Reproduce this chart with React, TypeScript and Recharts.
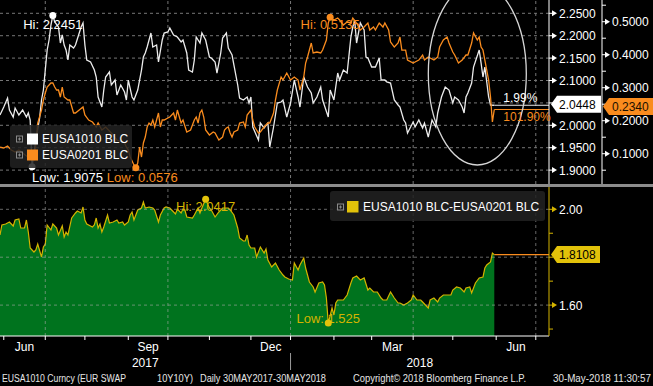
import React from "react";
import { LineChart, Line, AreaChart, Area, XAxis, YAxis, ReferenceLine, ReferenceDot } from "recharts";

const FONT = "'Liberation Sans', Arial, Helvetica, sans-serif";
const ORANGE = "#fa8c1e";
const WHITE = "#ececec";
const YELLOW = "#d4b400";
const YELLOW_BOX = "#e2c20a";
const GREEN = "#00731e";
const GRID = "#777777";

// x = trading-day index (0 = 30 May 2017, 262 = 30 May 2018)
const X_DOMAIN: [number, number] = [0, 291];
const monthStartDays = [2, 24, 45, 68, 89, 111, 133, 154, 177, 197, 219, 240, 263, 284];
const quarterDays = [24, 89, 154, 219, 284];
const monthLabelDays = [13, 78.5, 143.5, 208, 273.5];
const monthLabels = ["Jun", "Sep", "Dec", "Mar", "Jun"];
const yearLabelDays = [77, 222.5];
const yearLabels = ["2017", "2018"];
const yearBreakDays = [154];

const whiteDays = [
  0, 2, 4, 5, 7, 8, 10, 12, 14, 15,
  16, 17, 19, 21, 22, 23, 24, 25, 26, 27,
  28, 29, 31, 32, 33, 34, 35, 36, 37, 39,
  40, 42, 43, 44, 45, 46, 48, 50, 51, 52,
  54, 55, 56, 58, 59, 61, 62, 64, 66, 67,
  68, 70, 71, 73, 75, 76, 77, 78, 80, 81,
  83, 84, 86, 87, 89, 90, 92, 94, 96, 97,
  99, 100, 102, 103, 104, 106, 107, 109, 111, 112,
  114, 115, 117, 118, 120, 121, 123, 124, 126, 127,
  129, 131, 132, 133, 134, 137, 138, 140, 142, 143,
  145, 147, 149, 150, 152, 154, 156, 158, 159, 161,
  163, 165, 166, 168, 170, 171, 174, 175, 177, 179,
  180, 182, 184, 186, 187, 188, 189, 191, 193, 194,
  195, 197, 199, 201, 202, 204, 205, 207, 209, 211,
  212, 214, 215, 216, 219, 220, 222, 224, 225, 227,
  229, 231, 232, 234, 236, 238, 240, 241, 243, 245,
  246, 247, 248, 250, 251, 254, 255, 256, 257, 259,
  260, 262,
];
const whiteVals = [
  2.0230, 2.0408, 2.0609, 2.0342, 2.0185, 2.0386, 2.0230, 2.0342, 2.0185, 2.0275,
  2.0118, 1.9075, 1.9672, 2.0163, 2.0565, 2.0788, 2.1234, 2.1681, 2.1904, 2.2239,
  2.2451, 2.2306, 2.2194, 2.1837, 2.2016, 2.1792, 2.1681, 2.1458, 2.1792, 2.1725,
  2.1792, 2.2060, 2.2194, 2.2283, 2.1792, 2.1458, 2.1413, 2.1234, 2.1078, 2.0632,
  2.0408, 2.0788, 2.1078, 2.1190, 2.0900, 2.1011, 2.0676, 2.0900, 2.0743, 2.0565,
  2.1011, 2.0632, 2.0565, 2.0788, 2.1234, 2.1525, 2.1614, 2.1748, 2.2060, 2.1748,
  2.1792, 2.1413, 2.1904, 2.2060, 2.2083, 2.2172, 2.2016, 2.1971, 2.1860, 2.1904,
  2.1614, 2.1234, 2.1190, 2.1458, 2.1971, 2.1837, 2.2060, 2.1904, 2.1525, 2.1502,
  2.1413, 2.1167, 2.1614, 2.1949, 2.2060, 2.1725, 2.1569, 2.1346, 2.0900, 2.0609,
  2.0565, 2.0632, 2.0498, 2.0632, 1.9962, 1.9672, 2.0051, 1.9940, 2.0051, 1.9516,
  1.9962, 2.0498, 2.0520, 2.0565, 2.0185, 2.0498, 2.1011, 2.0632, 2.0408, 2.1078,
  2.0855, 2.0721, 2.0498, 2.0632, 2.0855, 2.0565, 2.0185, 2.0788, 2.0565, 2.1167,
  2.1011, 2.1234, 2.1167, 2.1971, 2.2194, 2.2350, 2.1837, 2.2283, 2.2127, 2.1525,
  2.1502, 2.1301, 2.1301, 2.1502, 2.1011, 2.1011, 2.0967, 2.0944, 2.0565, 2.0453,
  2.0408, 2.0118, 2.0051, 1.9828, 2.0074, 1.9962, 2.0118, 1.9940, 2.0051, 1.9739,
  2.0118, 1.9962, 2.0275, 2.0632, 2.0855, 2.0788, 2.0498, 2.0632, 2.0565, 2.0408,
  2.0275, 2.0632, 2.0721, 2.0944, 2.1301, 2.1681, 2.1391, 2.1078, 2.1301, 2.0632,
  2.0453, 2.0448,
];

const orangeDays = [
  0, 2, 4, 6, 8, 10, 12, 14, 16, 18,
  19, 20, 22, 23, 24, 25, 27, 28, 29, 30,
  31, 32, 33, 34, 36, 37, 39, 40, 42, 44,
  45, 47, 49, 51, 52, 54, 56, 59, 62, 66,
  67, 68, 69, 71, 72, 73, 74, 75, 76, 77,
  78, 79, 80, 81, 82, 84, 85, 86, 87, 89,
  90, 92, 93, 94, 96, 97, 99, 101, 103, 104,
  105, 106, 107, 108, 109, 111, 113, 114, 116, 118,
  119, 120, 121, 122, 123, 124, 126, 127, 129, 130,
  131, 133, 134, 135, 137, 138, 140, 142, 143, 145,
  146, 147, 149, 150, 152, 154, 156, 158, 159, 161,
  162, 163, 165, 166, 168, 170, 171, 173, 174, 175,
  177, 179, 180, 182, 184, 186, 187, 189, 191, 193,
  195, 196, 198, 199, 201, 203, 204, 206, 207, 209,
  211, 212, 213, 215, 216, 219, 220, 222, 224, 225,
  227, 228, 230, 232, 233, 235, 237, 238, 240, 241,
  243, 245, 247, 248, 250, 251, 253, 254, 255, 256,
  257, 259, 260, 261, 262,
];
const orangeVals = [
  0.1203, 0.1173, 0.1233, 0.1112, 0.1052, 0.1112, 0.1021, 0.0930, 0.0870, 0.0809,
  0.1264, 0.1930, 0.2324, 0.2627, 0.2839, 0.3021, 0.3142, 0.3142, 0.3021, 0.2930,
  0.2930, 0.2718, 0.3021, 0.2718, 0.2627, 0.2627, 0.2233, 0.2233, 0.2324, 0.2415,
  0.2173, 0.2021, 0.1961, 0.1809, 0.1930, 0.1718, 0.1809, 0.1627, 0.1415, 0.1324,
  0.1203, 0.1112, 0.0900, 0.0658, 0.0576, 0.0718, 0.1203, 0.0900, 0.1324, 0.1506,
  0.1809, 0.1930, 0.1870, 0.2021, 0.1809, 0.2233, 0.1809, 0.2021, 0.2021, 0.2082,
  0.2112, 0.2233, 0.2021, 0.2324, 0.1930, 0.2021, 0.1658, 0.1718, 0.2021, 0.2112,
  0.1930, 0.2233, 0.2324, 0.2112, 0.1718, 0.1567, 0.1658, 0.1627, 0.1415, 0.1506,
  0.1718, 0.1779, 0.1809, 0.1627, 0.1506, 0.1658, 0.1718, 0.1930, 0.1961, 0.1809,
  0.2173, 0.2324, 0.2021, 0.1809, 0.1627, 0.1658, 0.1809, 0.1930, 0.1930, 0.2233,
  0.2627, 0.2930, 0.3324, 0.3233, 0.3445, 0.3233, 0.3324, 0.3233, 0.2930, 0.3324,
  0.3748, 0.3930, 0.4355, 0.4052, 0.4082, 0.4052, 0.4142, 0.4445, 0.4961, 0.5135,
  0.5052, 0.5112, 0.5052, 0.4900, 0.4990, 0.4961, 0.5112, 0.4961, 0.4748, 0.4839,
  0.4961, 0.4748, 0.4839, 0.4748, 0.4961, 0.4839, 0.4961, 0.4748, 0.4385, 0.4233,
  0.4355, 0.4536, 0.4142, 0.4142, 0.3839, 0.3748, 0.3779, 0.3839, 0.3991, 0.3839,
  0.3930, 0.3900, 0.3839, 0.3930, 0.4233, 0.4445, 0.4536, 0.4355, 0.4082, 0.3991,
  0.3748, 0.3839, 0.3991, 0.3991, 0.4355, 0.4658, 0.4445, 0.4536, 0.4233, 0.4142,
  0.3839, 0.3233, 0.2718, 0.1961, 0.2340,
];

const spreadDays = [
  0, 1, 3, 5, 7, 8, 10, 11, 13, 14,
  15, 16, 18, 19, 20, 22, 23, 24, 25, 27,
  28, 30, 31, 33, 34, 35, 36, 38, 40, 41,
  43, 44, 45, 46, 49, 50, 51, 52, 53, 54,
  55, 57, 58, 60, 62, 63, 65, 66, 68, 69,
  70, 71, 73, 75, 76, 77, 79, 81, 82, 84,
  85, 87, 88, 90, 91, 93, 94, 96, 97, 98,
  99, 102, 103, 105, 106, 107, 109, 111, 112, 114,
  116, 118, 121, 122, 124, 126, 127, 129, 130, 131,
  132, 133, 135, 136, 138, 140, 141, 142, 144, 146,
  148, 150, 151, 153, 155, 156, 158, 159, 161, 162,
  164, 166, 167, 169, 171, 172, 173, 174, 176, 177,
  178, 179, 182, 184, 186, 187, 189, 191, 193, 195,
  196, 198, 200, 202, 203, 205, 207, 209, 211, 212,
  214, 216, 218, 219, 221, 223, 224, 227, 228, 230,
  232, 233, 235, 237, 239, 240, 242, 244, 246, 247,
  249, 250, 252, 254, 256, 257, 258, 260, 261, 262,
];
const spreadVals = [
  1.8927, 1.9344, 1.9386, 1.9470, 1.9303, 1.9553, 1.9595, 1.9219, 1.9219, 1.9553,
  1.9052, 1.8384, 1.8217, 1.8300, 1.8551, 1.8008, 1.8426, 1.8551, 1.9344, 1.9136,
  1.9386, 1.9219, 1.8927, 1.9303, 1.8843, 1.9052, 1.8927, 1.9637, 1.9846, 1.9929,
  1.9846, 2.0096, 1.9553, 1.9386, 1.9261, 1.9344, 1.9637, 1.9219, 1.9386, 1.9052,
  1.9261, 1.9762, 1.9428, 1.9470, 1.9553, 1.9428, 1.9470, 1.9344, 1.9470, 1.9762,
  1.9887, 1.9553, 1.9971, 2.0054, 2.0305, 2.0054, 2.0096, 2.0054, 1.9971, 1.9470,
  1.9762, 2.0054, 2.0096, 2.0054, 1.9971, 1.9804, 2.0013, 1.9846, 2.0013, 1.9971,
  1.9678, 1.9637, 1.9762, 2.0054, 1.9846, 2.0054, 2.0417, 2.0054, 1.9971, 1.9678,
  1.9887, 2.0054, 2.0054, 1.9971, 1.9762, 1.9219, 1.8802, 1.8676, 1.8676, 1.8927,
  1.8509, 1.8384, 1.8384, 1.8008, 1.8426, 1.8175, 1.8342, 1.7883, 1.7591, 1.7758,
  1.7466, 1.7257, 1.7173, 1.7090, 1.7048, 1.7758, 1.7466, 1.7674, 1.7967, 1.7549,
  1.6965, 1.6756, 1.6547, 1.6923, 1.6965, 1.6839, 1.6296, 1.5250, 1.5879, 1.5586,
  1.6087, 1.6213, 1.6213, 1.6422, 1.6923, 1.7132, 1.7215, 1.7048, 1.7132, 1.6630,
  1.6714, 1.6547, 1.6547, 1.6296, 1.6213, 1.6213, 1.6547, 1.6296, 1.6087, 1.6087,
  1.6004, 1.6087, 1.6213, 1.6422, 1.6213, 1.6213, 1.6129, 1.5879, 1.6213, 1.6296,
  1.6129, 1.6296, 1.6422, 1.6422, 1.6422, 1.6630, 1.6756, 1.6714, 1.6547, 1.6714,
  1.6756, 1.6505, 1.6923, 1.7132, 1.7173, 1.7549, 1.7674, 1.7800, 1.8175, 1.8108,
];

const whiteTicks = [1.9, 1.95, 2.0, 2.05, 2.1, 2.15, 2.2, 2.25];
const orangeTicks = [0.05, 0.1, 0.15, 0.2, 0.25, 0.3, 0.35, 0.4, 0.45, 0.5, 0.55];
const spreadTicks = [1.5, 1.6, 1.7, 1.8, 1.9, 2.0];

const W_DOMAIN: [number, number] = [1.869, 2.2797];
const O_DOMAIN: [number, number] = [0.0082, 0.5658];
const S_DOMAIN: [number, number] = [1.471, 2.0931];

const LAST_DAY = 262;
const whiteLast = 2.0448;
const orangeLast = 0.234;
const spreadLast = 1.8108;
const whiteHi = { d: 28, v: 2.2451 };
const whiteLo = { d: 17, v: 1.9075 };
const orangeHi = { d: 175, v: 0.5135 };
const orangeLo = { d: 72, v: 0.0576 };
const spreadHi = { d: 109, v: 2.0417 };
const spreadLo = { d: 174, v: 1.525 };
const circleCenter = { d: 253, v: 2.1145 };

// merge top series into one table
const topMap = new Map<number, any>();
whiteDays.forEach((d, i) => topMap.set(d, { ...(topMap.get(d) || { d }), w: whiteVals[i] }));
orangeDays.forEach((d, i) => topMap.set(d, { ...(topMap.get(d) || { d }), o: orangeVals[i] }));
const topData = Array.from(topMap.values()).sort((a, b) => a.d - b.d);
const spreadData = spreadDays.map((d, i) => ({ d, s: spreadVals[i] }));

const xTicks = Array.from(new Set([...monthStartDays, ...monthLabelDays, ...yearLabelDays, ...yearBreakDays])).sort((a, b) => a - b);

type BoxOpt = { value: number; fill: string; textColor: string; offset: number; dy: number; w: number; tx: number; text: string; hideNear: number };

function arrowTick(color: string, fmt: (v: number) => string, isMajor: (v: number) => boolean, box: BoxOpt) {
  return (props: any) => {
    const { x, y, payload } = props;
    const v = Number(payload.value);
    if (v === box.value) {
      const bx = x + box.offset;
      const cy = y + box.dy;
      const h = 8.5;
      return (
        <g>
          <path d={`M${bx},${cy}L${bx + 6},${cy - h}L${bx + box.w},${cy - h}L${bx + box.w},${cy + h}L${bx + 6},${cy + h}Z`} fill={box.fill} />
          <text x={bx + box.tx} y={cy + 4.5} fill={box.textColor} fontSize={12} fontFamily={FONT}>
            {box.text}
          </text>
        </g>
      );
    }
    if (!isMajor(v) || Math.abs(v - box.value) < box.hideNear) {
      return (
        <g>
          <line x1={x} y1={y} x2={x + 4} y2={y} stroke={color} strokeWidth={1} />
        </g>
      );
    }
    return (
      <g>
        <line x1={x} y1={y} x2={x + 4} y2={y} stroke={color} strokeWidth={1} />
        <path d={`M${x + 3},${y - 3}L${x + 8},${y}L${x + 3},${y + 3}Z`} fill={color} />
        <text x={x + 10} y={y + 4.5} fill="#ffffff" fontSize={12} fontFamily={FONT}>
          {fmt(v)}
        </text>
      </g>
    );
  };
}

function renderXTick(props: any) {
  const { x, y, payload } = props;
  const v = Number(payload.value);
  const parts: React.ReactNode[] = [];
  if (monthStartDays.includes(v)) parts.push(<line key="t" x1={x} x2={x} y1={y} y2={y + 4} stroke="#ffffff" />);
  const mi = monthLabelDays.indexOf(v);
  if (mi >= 0)
    parts.push(
      <text key="m" x={x} y={y + 15} textAnchor="middle" fill="#ffffff" fontSize={12} fontFamily={FONT}>
        {monthLabels[mi]}
      </text>
    );
  const yi = yearLabelDays.indexOf(v);
  if (yi >= 0)
    parts.push(
      <text key="y" x={x} y={y + 31} textAnchor="middle" fill="#ffffff" fontSize={12} fontFamily={FONT}>
        {yearLabels[yi]}
      </text>
    );
  if (yearBreakDays.includes(v)) parts.push(<line key="b" x1={x} x2={x} y1={y + 17} y2={y + 34} stroke="#9a9a9a" />);
  return <g>{parts}</g>;
}

function markerShape(o: { dot: string; text: string; color: string; dx: number; dy: number; anchor: "start" | "middle"; textFirst?: boolean }) {
  return (p: any) => {
    const dot = <circle cx={p.cx} cy={p.cy} r={3.5} fill={o.dot} />;
    const txt = (
      <text x={p.cx + o.dx} y={p.cy + o.dy} textAnchor={o.anchor} fill={o.color} fontSize={13} fontFamily={FONT}>
        {o.text}
      </text>
    );
    return o.textFirst ? (
      <g>
        {txt}
        {dot}
      </g>
    ) : (
      <g>
        {dot}
        {txt}
      </g>
    );
  };
}

function textShape(o: { text: string; color: string; dx: number; dy: number }) {
  return (p: any) => (
    <text x={p.cx + o.dx} y={p.cy + o.dy} fill={o.color} fontSize={12} fontFamily={FONT}>
      {o.text}
    </text>
  );
}

const LegendIcon = ({ x, y }: { x: number; y: number }) => (
  <g>
    <rect x={x + 0.5} y={y + 0.5} width={6} height={6} fill="none" stroke="#8a8a8a" strokeWidth={1} />
    <line x1={x + 2} y1={y + 3.5} x2={x + 5} y2={y + 3.5} stroke="#8a8a8a" />
    <line x1={x + 3.5} y1={y + 2} x2={x + 3.5} y2={y + 5} stroke="#8a8a8a" />
  </g>
);

export default function App() {
  const isMajorTenth = (v: number) => Math.abs(v * 10 - Math.round(v * 10)) < 1e-6;
  const isMajorFifth = (v: number) => Math.round(v * 10) % 2 === 0;
  return (
    <div style={{ position: "absolute", left: 0, top: 0, width: 653, height: 386, background: "#000", overflow: "hidden", fontFamily: FONT }}>
      <div style={{ position: "absolute", left: 0, top: 0 }}>
        <LineChart width={653} height={184} data={topData} margin={{ top: 0, right: 0, bottom: 0, left: 0 }}>
          <XAxis type="number" dataKey="d" domain={X_DOMAIN} allowDataOverflow hide />
          <YAxis
            yAxisId="b"
            orientation="right"
            type="number"
            width={51}
            domain={O_DOMAIN}
            allowDataOverflow
            ticks={[...orangeTicks, orangeLast]}
            interval={0}
            tickSize={0}
            tickMargin={0}
            tickLine={false}
            axisLine={{ stroke: "#ffffff" }}
            tick={arrowTick("#ffffff", (v) => v.toFixed(4), isMajorTenth, {
              value: orangeLast, fill: ORANGE, textColor: "#1a1000", offset: 1, dy: -3, w: 50, tx: 9, text: "0.2340", hideNear: 0.02,
            })}
          />
          <YAxis
            yAxisId="a"
            orientation="right"
            type="number"
            width={53}
            domain={W_DOMAIN}
            allowDataOverflow
            ticks={[...whiteTicks, whiteLast]}
            interval={0}
            tickSize={0}
            tickMargin={0}
            tickLine={false}
            axisLine={{ stroke: "#ffffff" }}
            tick={arrowTick("#ffffff", (v) => v.toFixed(4), () => true, {
              value: whiteLast, fill: "#ffffff", textColor: "#000000", offset: 2, dy: -1, w: 50, tx: 8, text: "2.0448", hideNear: 0.012,
            })}
          />
          {whiteTicks.map((t) => (
            <ReferenceLine key={"h" + t} yAxisId="a" y={t} stroke={GRID} strokeDasharray="3 3" />
          ))}
          {quarterDays.map((d) => (
            <ReferenceLine key={"v" + d} yAxisId="a" x={d} stroke={GRID} strokeDasharray="3 3" />
          ))}
          <Line yAxisId="a" type="linear" dataKey="w" stroke={WHITE} strokeWidth={1.3} dot={false} activeDot={false} connectNulls isAnimationActive={false} />
          <Line yAxisId="b" type="linear" dataKey="o" stroke={ORANGE} strokeWidth={1.3} dot={false} activeDot={false} connectNulls isAnimationActive={false} />
          <ReferenceLine yAxisId="a" ifOverflow="visible" segment={[{ x: LAST_DAY, y: whiteLast }, { x: X_DOMAIN[1], y: whiteLast }]} stroke={WHITE} strokeWidth={1.2} />
          <ReferenceLine yAxisId="b" ifOverflow="visible" segment={[{ x: LAST_DAY, y: orangeLast }, { x: X_DOMAIN[1], y: orangeLast }]} stroke={ORANGE} strokeWidth={1.2} />
          <ReferenceDot yAxisId="a" ifOverflow="visible" x={circleCenter.d} y={circleCenter.v} shape={(p: any) => <ellipse cx={p.cx} cy={p.cy} rx={49} ry={91} fill="none" stroke="#d6d6d6" strokeWidth={1.3} />} />
          <ReferenceDot yAxisId="a" ifOverflow="visible" x={LAST_DAY} y={whiteLast} shape={textShape({ text: "1.99%", color: "#ffffff", dx: 9, dy: -3 })} />
          <ReferenceDot yAxisId="b" ifOverflow="visible" x={LAST_DAY} y={orangeLast} shape={textShape({ text: "101.90%", color: ORANGE, dx: 9, dy: 12 })} />
          <ReferenceDot yAxisId="a" ifOverflow="visible" x={whiteHi.d} y={whiteHi.v} shape={markerShape({ dot: "#ffffff", text: "Hi: 2.2451", color: "#ffffff", dx: 0, dy: 13, anchor: "middle" })} />
          <ReferenceDot yAxisId="b" ifOverflow="visible" x={orangeHi.d} y={orangeHi.v} shape={markerShape({ dot: ORANGE, text: "Hi: 0.5135", color: ORANGE, dx: 0, dy: 12, anchor: "middle" })} />
          <ReferenceDot yAxisId="a" ifOverflow="visible" x={whiteLo.d} y={whiteLo.v} shape={markerShape({ dot: "#ffffff", text: "Low: 1.9075", color: "#ffffff", dx: 0, dy: 15.3, anchor: "start" })} />
          <ReferenceDot yAxisId="b" ifOverflow="visible" x={orangeLo.d} y={orangeLo.v} shape={markerShape({ dot: ORANGE, text: "Low: 0.0576", color: ORANGE, dx: -29, dy: 14.3, anchor: "start" })} />
        </LineChart>
      </div>

      <div style={{ position: "absolute", left: 0, top: 184, width: 653, height: 3, background: "#8c8c8c" }} />

      <div style={{ position: "absolute", left: 0, top: 187 }}>
        <AreaChart width={653} height={200} data={spreadData} margin={{ top: 0, right: 0, bottom: 0, left: 0 }}>
          <XAxis
            type="number"
            dataKey="d"
            domain={X_DOMAIN}
            allowDataOverflow
            ticks={xTicks}
            interval={0}
            height={51}
            tickSize={0}
            tickMargin={0}
            tickLine={false}
            axisLine={{ stroke: "#ffffff" }}
            tick={renderXTick}
          />
          <YAxis
            orientation="right"
            type="number"
            width={104}
            domain={S_DOMAIN}
            allowDataOverflow
            ticks={[...spreadTicks, spreadLast]}
            interval={0}
            tickSize={0}
            tickMargin={0}
            tickLine={false}
            axisLine={{ stroke: YELLOW }}
            tick={arrowTick(YELLOW, (v) => v.toFixed(2), isMajorFifth, {
              value: spreadLast, fill: YELLOW_BOX, textColor: "#000000", offset: 2, dy: 0, w: 49, tx: 8, text: "1.8108", hideNear: 0.025,
            })}
          />
          <Area type="linear" dataKey="s" stroke={YELLOW} strokeWidth={1.2} fill={GREEN} fillOpacity={1} baseValue="dataMin" dot={false} activeDot={false} isAnimationActive={false} />
          {[1.6, 1.8, 2.0].map((t) => (
            <ReferenceLine key={"bh" + t} y={t} stroke="rgba(170,170,170,0.6)" strokeDasharray="3 3" />
          ))}
          {quarterDays.map((d) => (
            <ReferenceLine key={"bv" + d} x={d} stroke="rgba(170,170,170,0.6)" strokeDasharray="3 3" />
          ))}
          <ReferenceLine ifOverflow="visible" segment={[{ x: LAST_DAY, y: spreadLast }, { x: X_DOMAIN[1], y: spreadLast }]} stroke={ORANGE} strokeWidth={1.2} />
          <ReferenceDot ifOverflow="visible" x={spreadHi.d} y={spreadHi.v} shape={markerShape({ dot: YELLOW_BOX, text: "Hi: 2.0417", color: YELLOW, dx: 0, dy: 12, anchor: "middle" })} />
          <ReferenceDot ifOverflow="visible" x={spreadLo.d} y={spreadLo.v} shape={markerShape({ dot: YELLOW_BOX, text: "Low: 1.525", color: YELLOW, dx: 0, dy: 0, anchor: "middle", textFirst: true })} />
        </AreaChart>
      </div>

      {/* top legend */}
      <div style={{ position: "absolute", left: 10, top: 125, width: 122, height: 43, background: "rgba(34,34,34,0.85)", borderRadius: 3 }}>
        <svg width={122} height={43} style={{ display: "block" }}>
          <LegendIcon x={6} y={10.5} />
          <rect x={17} y={8.5} width={11} height={11} fill="#ffffff" />
          <text x={32} y={18.3} fill="#ffffff" fontSize={12} fontFamily={FONT}>EUSA1010 BLC</text>
          <LegendIcon x={6} y={26.5} />
          <rect x={17} y={24.5} width={11} height={11} fill={ORANGE} />
          <text x={32} y={34.3} fill="#ffffff" fontSize={12} fontFamily={FONT}>EUSA0201 BLC</text>
        </svg>
      </div>

      {/* bottom legend */}
      <div style={{ position: "absolute", left: 330, top: 191, width: 215, height: 30, background: "rgba(34,34,34,0.85)", borderRadius: 3 }}>
        <svg width={215} height={30} style={{ display: "block" }}>
          <LegendIcon x={7} y={12.5} />
          <rect x={17} y={10} width={11.5} height={11.5} fill={YELLOW_BOX} />
          <text x={33} y={20.3} fill="#ffffff" fontSize={12} fontFamily={FONT}>EUSA1010 BLC-EUSA0201 BLC</text>
        </svg>
      </div>

      {/* footer */}
      <svg width={653} height={16} style={{ position: "absolute", left: 0, top: 370 }}>
        <g fill="#e6e6e6" fontSize={10} fontFamily={FONT}>
          <text x={2} y={12} textLength={124} lengthAdjust="spacingAndGlyphs">EUSA1010 Curncy (EUR SWAP</text>
          <text x={157} y={12} textLength={36} lengthAdjust="spacingAndGlyphs">10Y10Y)</text>
          <text x={200} y={12} textLength={126} lengthAdjust="spacingAndGlyphs">Daily 30MAY2017-30MAY2018</text>
          <text x={353} y={12} textLength={173} lengthAdjust="spacingAndGlyphs">Copyright© 2018 Bloomberg Finance L.P.</text>
          <text x={553} y={12} textLength={98} lengthAdjust="spacingAndGlyphs">30-May-2018 11:30:57</text>
        </g>
      </svg>
    </div>
  );
}
